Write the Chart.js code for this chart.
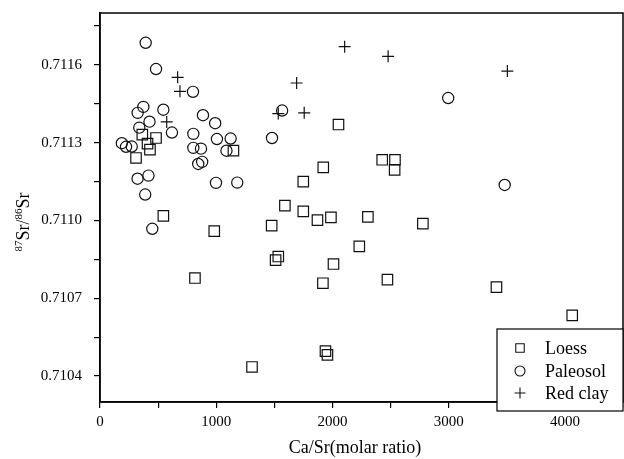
<!DOCTYPE html>
<html>
<head>
<meta charset="utf-8">
<script src="https://cdn.jsdelivr.net/npm/chart.js@4/dist/chart.umd.min.js"></script>
<style>
  body { margin: 0; background: #fff; }
  canvas { display: block; }
</style>
</head>
<body>
<canvas id="srChart" width="624" height="459"></canvas>
<script>
/************************************************************************
 *                              CHART DATA
 ************************************************************************/

const loessX = [364, 482, 409, 430, 310, 545, 1148, 983, 817, 1477, 1511, 1534, 1308,
  1591, 1749, 1749, 1871, 1921, 1987, 2052, 2305, 2428, 2538, 2535, 2778, 2231, 2009,
  1918, 2473, 1940, 1957, 3411, 4063];
const loessY = [0.711331, 0.711318, 0.711296, 0.711273, 0.711241, 0.711018, 0.711269,
  0.710959, 0.710778, 0.71098, 0.710847, 0.710861, 0.710435, 0.711057, 0.71115, 0.711035,
  0.711001, 0.711205, 0.711012, 0.71137, 0.711014, 0.711234, 0.711234, 0.711195, 0.710988,
  0.7109, 0.710832, 0.710758, 0.710772, 0.710496, 0.710482, 0.710743, 0.710634];

const paleosolX = [393, 482, 800, 373, 324, 545, 426, 338, 619, 886, 991, 803, 1006, 1124,
  188, 224, 273, 803, 869, 1088, 879, 845, 323, 417, 389, 998, 1181, 1567, 1480, 450,
  2996, 3482];
const paleosolY = [0.711685, 0.711584, 0.711496, 0.711438, 0.711415, 0.711427, 0.711381,
  0.711358, 0.711339, 0.711406, 0.711375, 0.711334, 0.711314, 0.711316, 0.711298, 0.711284,
  0.711285, 0.71128, 0.711277, 0.711269, 0.711226, 0.711218, 0.711161, 0.711173, 0.7111,
  0.711145, 0.711146, 0.711424, 0.711318, 0.710968, 0.711472, 0.711137];

const redClayX = [668, 688, 574, 1692, 1757, 1534, 2105, 2479, 3505];
const redClayY = [0.711552, 0.711498, 0.71138, 0.71153, 0.711415, 0.711412, 0.71167,
  0.711633, 0.711576];

const seriesLabels = ["Loess", "Paleosol", "Red clay"];
const xTickLabels = [0, 1000, 2000, 3000, 4000];
const yTickLabels = [0.7104, 0.7107, 0.7110, 0.7113, 0.7116];

/************************************************************************
 *                              SETTINGS
 ************************************************************************/

const FONT = "'Liberation Serif', 'Times New Roman', serif";
Chart.defaults.font.family = FONT;
Chart.defaults.color = "#000";

const markerStyles = [
  { pointStyle: "rect", radius: 7.4 },
  { pointStyle: "circle", radius: 5.6 },
  { pointStyle: "cross", radius: 6 },
];

function toPoints(xs, ys) {
  return xs.map((x, i) => ({ x: x, y: ys[i] }));
}

function getDataSets() {
  const sources = [
    toPoints(loessX, loessY),
    toPoints(paleosolX, paleosolY),
    toPoints(redClayX, redClayY),
  ];
  return sources.map((pts, i) => ({
    label: seriesLabels[i],
    data: pts,
    showLine: false,
    pointStyle: markerStyles[i].pointStyle,
    pointRadius: markerStyles[i].radius,
    pointHoverRadius: markerStyles[i].radius,
    pointBorderWidth: 1.2,
    pointBorderColor: "#111",
    pointBackgroundColor: "rgba(0,0,0,0)",
  }));
}

// no extra room for half tick labels, the plot box is set by hand
function noScalePadding(scale) {
  scale.paddingTop = 0;
  scale.paddingBottom = 0;
  scale.paddingLeft = 0;
  scale.paddingRight = 0;
}

/************************************************************************
 *                       FRAME, TITLES AND LEGEND
 ************************************************************************/

const framePlugin = {
  id: "frameAndLegend",
  afterDraw(chart) {
    const ctx = chart.ctx;
    const a = chart.chartArea;
    ctx.save();

    // box round the plot
    ctx.strokeStyle = "#000";
    ctx.lineWidth = 1.5;
    ctx.strokeRect(a.left, a.top, a.right - a.left, a.bottom - a.top);

    // x title
    ctx.fillStyle = "#000";
    ctx.font = "18px " + FONT;
    ctx.textAlign = "center";
    ctx.textBaseline = "alphabetic";
    ctx.fillText("Ca/Sr(molar ratio)", 355, 453);

    // y title 87Sr/86Sr, rotated
    ctx.translate(29, 222);
    ctx.rotate(-Math.PI / 2);
    const parts = [
      { t: "87", sup: true },
      { t: "Sr/", sup: false },
      { t: "86", sup: true },
      { t: "Sr", sup: false },
    ];
    let total = 0;
    parts.forEach((p) => {
      ctx.font = (p.sup ? "11px " : "18px ") + FONT;
      p.w = ctx.measureText(p.t).width;
      total += p.w;
    });
    let cx = -total / 2;
    ctx.textAlign = "left";
    parts.forEach((p) => {
      ctx.font = (p.sup ? "11px " : "18px ") + FONT;
      ctx.fillText(p.t, cx, p.sup ? -7 : 0);
      cx += p.w;
    });
    ctx.setTransform(1, 0, 0, 1, 0, 0);

    // legend box
    const lx = 497, ly = 329, lw = 126, lh = 82;
    ctx.fillStyle = "#fff";
    ctx.fillRect(lx, ly, lw, lh);
    ctx.strokeStyle = "#000";
    ctx.lineWidth = 1.2;
    ctx.strokeRect(lx, ly, lw, lh);

    const rows = [348, 371, 393];
    const legendRadius = [6, 5, 5.5];
    seriesLabels.forEach((label, i) => {
      ctx.strokeStyle = "#111";
      ctx.fillStyle = "rgba(0,0,0,0)";
      ctx.lineWidth = 1.1;
      Chart.helpers.drawPoint(ctx, {
        pointStyle: markerStyles[i].pointStyle,
        radius: legendRadius[i],
        borderWidth: 1.1,
      }, 520, rows[i]);
      ctx.fillStyle = "#000";
      ctx.font = "18px " + FONT;
      ctx.textAlign = "left";
      ctx.textBaseline = "middle";
      ctx.fillText(label, 545, rows[i] + 1);
    });

    ctx.restore();
  },
};

/************************************************************************
 *                              SCALES
 ************************************************************************/

function getXoption() {
  return {
    type: "linear",
    position: "bottom",
    min: 0,
    max: 4500,
    afterFit(scale) {
      scale.height = 57;
      noScalePadding(scale);
    },
    ticks: {
      stepSize: 500,
      autoSkip: false,
      maxRotation: 0,
      padding: 5,
      font: { size: 15 },
      color: "#000",
      callback: (v) => (xTickLabels.includes(v) ? String(v) : ""),
    },
    grid: {
      drawOnChartArea: false,
      tickLength: 6,
      tickColor: "#000",
      lineWidth: 1.2,
    },
    border: { display: true, color: "#000", width: 1.5 },
  };
}

function getYoption() {
  return {
    type: "linear",
    min: 0.7103,
    max: 0.7118,
    afterFit(scale) {
      scale.width = 100;
      noScalePadding(scale);
    },
    afterBuildTicks(scale) {
      const ticks = [];
      for (let i = 0; i < 10; i++) {
        ticks.push({ value: 0.7104 + i * 0.00015 });
      }
      scale.ticks = ticks;
    },
    ticks: {
      padding: 12,
      font: { size: 15 },
      color: "#000",
      callback: (v, index) => {
        if (index % 2 !== 0) return "";
        const lbl = yTickLabels[index / 2];
        return lbl !== undefined ? lbl.toFixed(4) : "";
      },
    },
    grid: {
      drawOnChartArea: false,
      tickLength: 6,
      tickColor: "#000",
      lineWidth: 1.2,
    },
    border: { display: true, color: "#000", width: 1.5 },
  };
}

/************************************************************************
 *                           RENDER THE CHART
 ************************************************************************/

const srConfig = {
  type: "scatter",
  data: { datasets: getDataSets() },
  options: {
    responsive: false,
    animation: false,
    layout: {
      autoPadding: false,
      padding: { top: 13, right: 1, left: 0, bottom: 0 },
    },
    scales: { x: getXoption(), y: getYoption() },
    plugins: {
      legend: { display: false },
      tooltip: { enabled: false },
    },
  },
  plugins: [framePlugin],
};

new Chart(document.getElementById("srChart"), srConfig);
</script>
</body>
</html>
